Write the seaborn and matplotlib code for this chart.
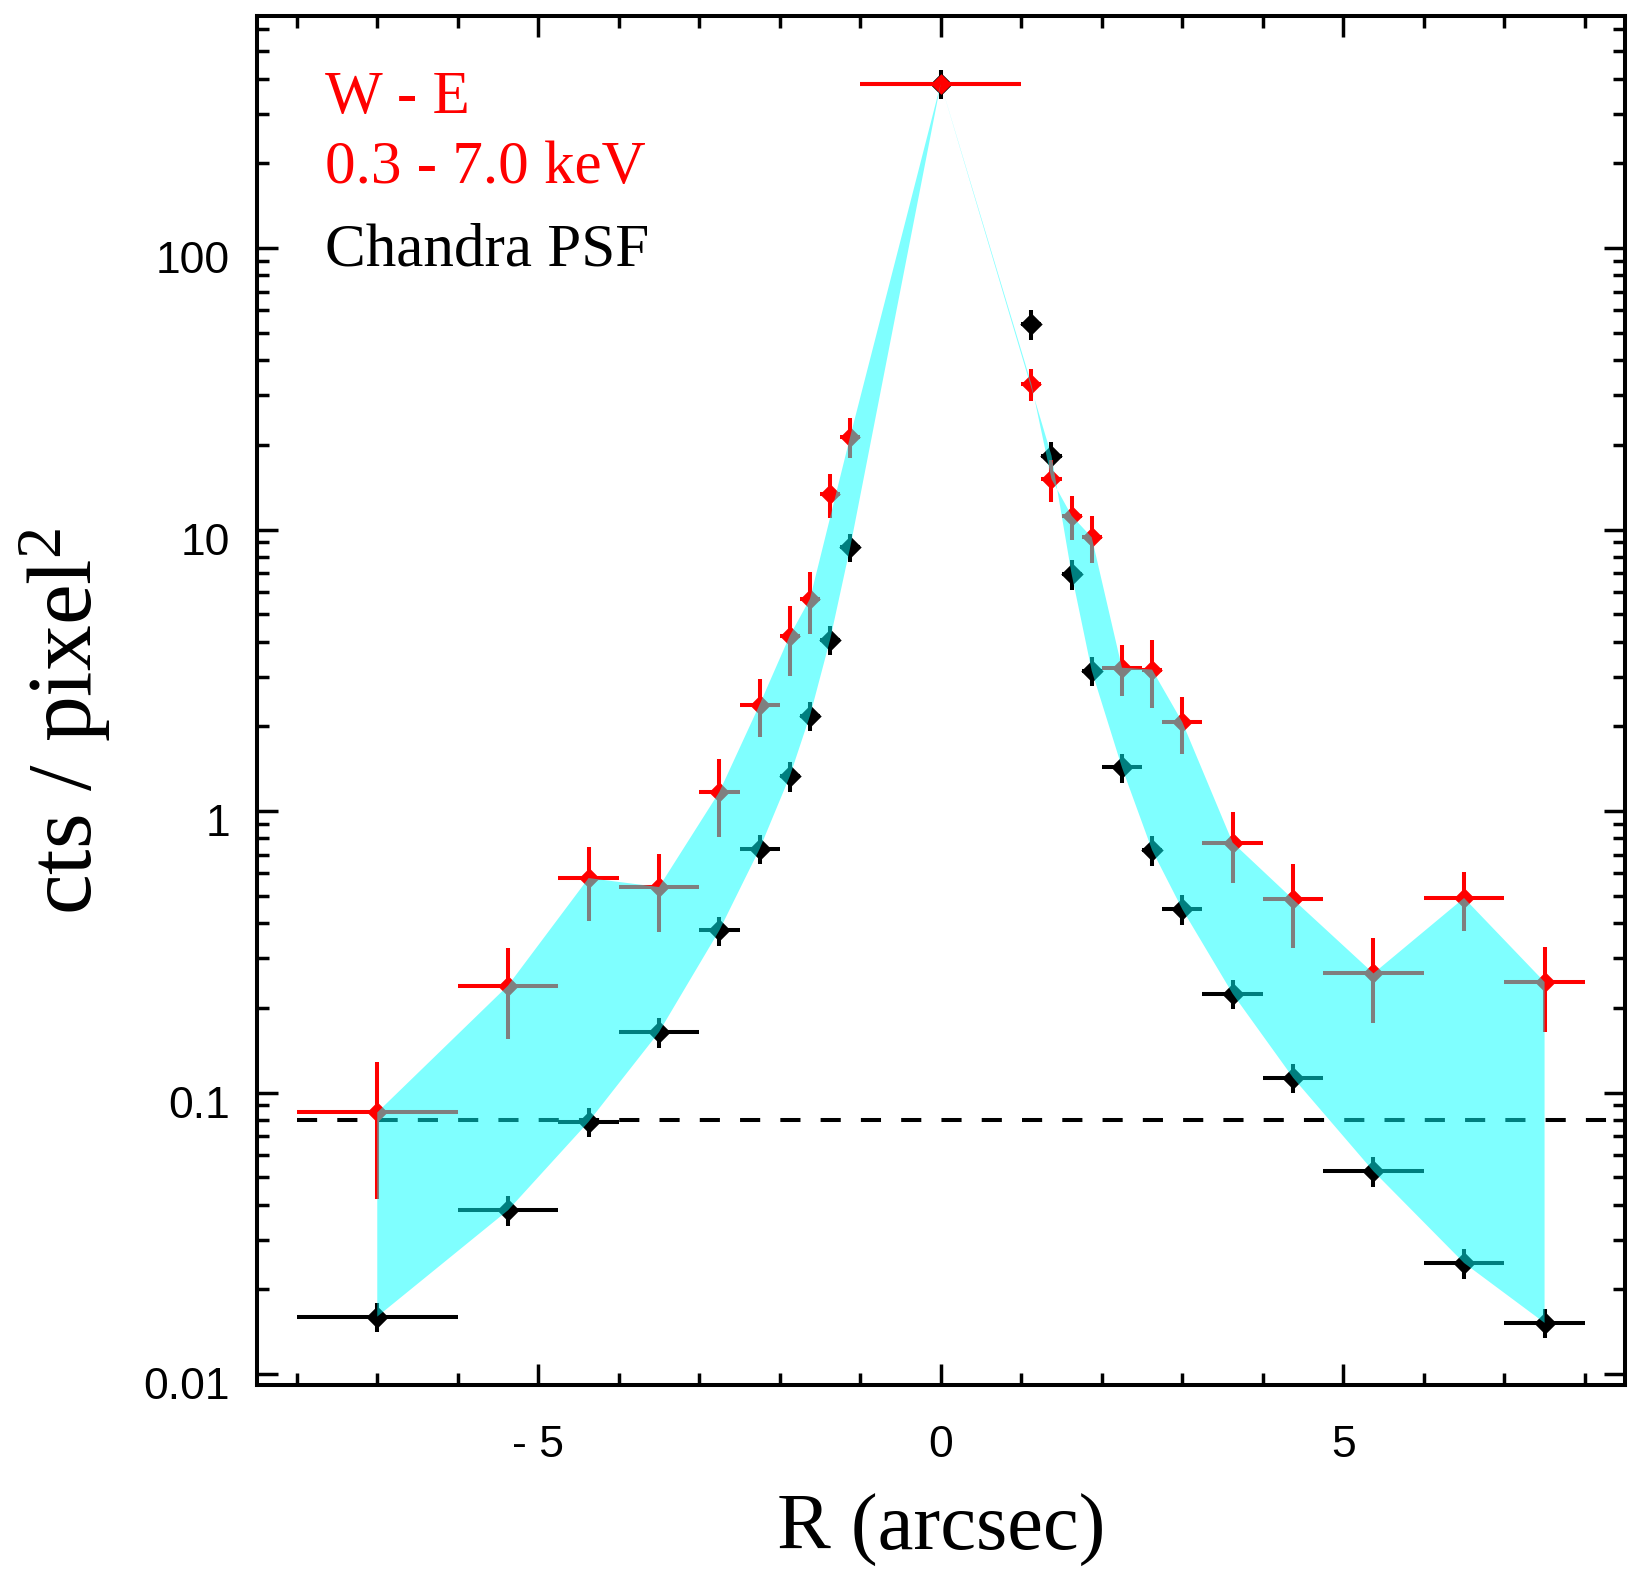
import numpy as np
import pandas as pd
import matplotlib
matplotlib.use("Agg")
import matplotlib.pyplot as plt
import seaborn as sns
from matplotlib.ticker import FixedLocator, NullFormatter
from matplotlib.transforms import ScaledTranslation

# Radial bins along the W-E cut (arcsec): centres and half widths
r_center = [-7.0, -5.375, -4.375, -3.5, -2.75, -2.25, -1.875, -1.625, -1.375, -1.125, 0.0,
            1.125, 1.375, 1.625, 1.875, 2.25, 2.625, 3.0, 3.625, 4.375, 5.375, 6.5, 7.5]
r_halfwidth = [1.0, 0.625, 0.375, 0.5, 0.25, 0.25, 0.125, 0.125, 0.125, 0.125, 1.0,
               0.125, 0.125, 0.125, 0.125, 0.25, 0.125, 0.25, 0.375, 0.375, 0.625, 0.5, 0.5]

# Observed surface brightness, 0.3-7.0 keV (cts / pixel^2)
src_cts = [0.085, 0.240, 0.578, 0.537, 1.17, 2.39, 4.20, 5.67, 13.4, 21.4, 384.0,
           32.9, 15.1, 11.2, 9.38, 3.23, 3.18, 2.07, 0.773, 0.486, 0.265, 0.491, 0.247]
src_err = [0.043, 0.085, 0.17, 0.165, 0.36, 0.56, 1.17, 1.40, 2.4, 3.5, 20.0,
           4.2, 2.6, 2.0, 1.77, 0.67, 0.86, 0.47, 0.217, 0.16, 0.089, 0.115, 0.083]

# Simulated Chandra PSF, normalised to the central bin
psf_cts = [0.0160, 0.0382, 0.0787, 0.164, 0.377, 0.734, 1.33, 2.18, 4.06, 8.65, 384.0,
           53.7, 18.3, 6.95, 3.15, 1.43, 0.726, 0.448, 0.2245, 0.113, 0.0525, 0.0248, 0.0152]
psf_err = [0.0019, 0.0046, 0.0094, 0.020, 0.045, 0.088, 0.16, 0.26, 0.49, 1.0, 45.0,
           6.4, 2.2, 0.83, 0.38, 0.17, 0.087, 0.054, 0.027, 0.0136, 0.0063, 0.0030, 0.0018]

# Bins that trace the shaded source/PSF envelope
src_in_band = [True, True, True, True, True, True, True, True, False, True, True,
               True, True, True, True, True, True, True, True, True, True, True, True]
psf_in_band = [True, True, True, True, True, True, True, True, True, True, True,
               False, True, True, True, True, True, True, True, True, True, True, True]

background_level = 0.08
background_span = [-8.0, 8.5]

x_ticks = [-5, 0, 5]
x_tick_labels = ["- 5", "0", "5"]
y_ticks = [0.01, 0.1, 1, 10, 100]
y_tick_labels = ["0.01", "0.1", "1", "10", "100"]

sns.set_style("white")
plt.rcParams["font.family"] = ["Liberation Sans", "DejaVu Sans"]
plt.rcParams["mathtext.fontset"] = "custom"
plt.rcParams["mathtext.rm"] = "Liberation Serif"
plt.rcParams["mathtext.it"] = "Liberation Serif:italic"
plt.rcParams["mathtext.bf"] = "Liberation Serif:bold"
for key in ("text.color", "axes.labelcolor", "xtick.color", "ytick.color", "axes.edgecolor"):
    plt.rcParams[key] = "black"

df = pd.DataFrame({"r": r_center, "dr": r_halfwidth,
                   "src": src_cts, "src_err": src_err,
                   "psf": psf_cts, "psf_err": psf_err})

fig = plt.figure(figsize=(16.39, 15.70), dpi=100)
ax = fig.add_axes([0.1565, 0.1178, 0.8350, 0.8720])
ax.set_yscale("log")

LW = 2.9  # points

# background level
ax.plot(background_span, [background_level, background_level], color="black",
        lw=LW, ls=(0, (5, 5)), zorder=1.5)

# PSF profile
ax.errorbar(df["r"], df["psf"], xerr=df["dr"], yerr=df["psf_err"], fmt="none",
            ecolor="black", elinewidth=LW, capsize=0, zorder=2.0)
sns.scatterplot(data=df, x="r", y="psf", marker="D", s=130, color="black",
                linewidth=0, ax=ax, zorder=2.1, legend=False)

# observed profile
ax.errorbar(df["r"], df["src"], xerr=df["dr"], yerr=df["src_err"], fmt="none",
            ecolor="red", elinewidth=LW, capsize=0, zorder=2.2)
sns.scatterplot(data=df, x="r", y="src", marker="D", s=110, color="red",
                linewidth=0, ax=ax, zorder=2.3, legend=False)

# shaded envelope between source and PSF
upper = df[src_in_band].sort_values("r")
lower = df[psf_in_band].sort_values("r", ascending=False)
poly_x = np.concatenate([upper["r"].to_numpy(), lower["r"].to_numpy()])
poly_y = np.concatenate([upper["src"].to_numpy(), lower["psf"].to_numpy()])
ax.fill(poly_x, poly_y, color="cyan", alpha=0.5, lw=0, zorder=3)

ax.set_xlim(-8.5, 8.5)
ax.set_ylim(0.00914, 667)

ax.set_xticks(x_ticks, labels=x_tick_labels)
ax.xaxis.set_minor_locator(FixedLocator(list(range(-8, 9))))
ax.xaxis.set_minor_formatter(NullFormatter())
ax.set_yticks(y_ticks, labels=y_tick_labels)
minor_y = [m * 10.0 ** e for e in range(-3, 3) for m in range(2, 10)]
ax.yaxis.set_minor_locator(FixedLocator(minor_y))
ax.yaxis.set_minor_formatter(NullFormatter())

ax.tick_params(which="both", direction="in", top=True, right=True, bottom=True, left=True,
               width=2.5, color="black", labelcolor="black", labelsize=32)
ax.tick_params(which="major", length=15)
ax.tick_params(which="minor", length=8.3)
ax.tick_params(axis="x", which="major", pad=29)
ax.tick_params(axis="y", which="major", pad=19)
for lab in ax.get_yticklabels():
    lab.set_transform(lab.get_transform() + ScaledTranslation(0, -9 / 100, fig.dpi_scale_trans))

for sp in ax.spines.values():
    sp.set_linewidth(LW)
    sp.set_color("black")
    sp.set_zorder(5)

ax.set_xlabel("R (arcsec)", fontsize=58, family="Liberation Serif", color="black")
ax.xaxis.set_label_coords(0.5, -0.1205)
ax.xaxis.label.set_va("baseline")
ax.set_ylabel("cts / pixel$^{2}$", fontsize=66, family="Liberation Serif", color="black")
ax.yaxis.set_label_coords(-0.1202, 0.485)
ax.yaxis.label.set_va("baseline")

txt = dict(transform=ax.transAxes, fontsize=44, family="Liberation Serif",
           ha="left", va="baseline", zorder=6)
ax.text(0.050, 0.9289, "W - E", color="red", **txt)
ax.text(0.050, 0.8782, "0.3 - 7.0 keV", color="red", **txt)
ax.text(0.050, 0.8181, "Chandra PSF", color="black", **txt)

fig.savefig("out.png", dpi=100)
